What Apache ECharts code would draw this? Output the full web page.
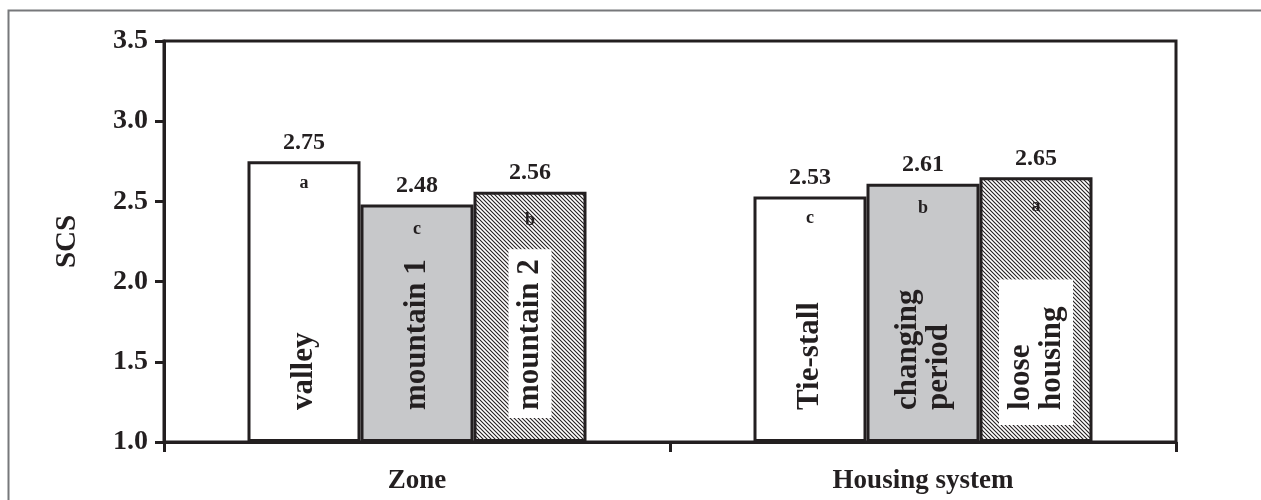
<!DOCTYPE html>
<html><head><meta charset="utf-8">
<script src="https://cdn.jsdelivr.net/npm/echarts@6/dist/echarts.min.js"></script>
<style>html,body{margin:0;padding:0;background:#fff}#c{width:1261px;height:500px}</style>
</head><body><div id="c"></div>
<script>
// ---- data ----
const categories = ['Zone', 'Housing system'];
const firstBar = [2.75, 2.53];
const secondBar = [2.48, 2.61];
const thirdBar = [2.56, 2.65];
const firstNames = ['valley', 'Tie-stall'];
const secondNames = ['mountain 1', 'changing\nperiod'];
const thirdNames = ['mountain 2', 'loose\nhousing'];
const firstLetters = ['a', 'c'];
const secondLetters = ['c', 'b'];
const thirdLetters = ['b', 'a'];
const yTicks = [1.0, 1.5, 2.0, 2.5, 3.0, 3.5];
const yTitle = 'SCS';

// ---- styling ----
const ink = '#231f20';
const serif = '"Liberation Serif","Times New Roman",serif';
const grayFill = '#c7c8ca';
const BW = 113;

function hatch() {
  const c = document.createElement('canvas');
  c.width = 4; c.height = 4;
  const g = c.getContext('2d');
  g.fillStyle = '#fff'; g.fillRect(0, 0, 4, 4);
  g.strokeStyle = ink; g.lineWidth = 1.1;
  g.beginPath();
  g.moveTo(-1, -1); g.lineTo(5, 5);
  g.moveTo(-1, 3); g.lineTo(1, 5);
  g.moveTo(3, -1); g.lineTo(5, 1);
  g.stroke();
  return c;
}

function mainSeries(vals, fill) {
  return {
    type: 'bar', xAxisIndex: 0, data: vals, barWidth: BW, barGap: '0%', silent: true,
    itemStyle: { color: fill, borderColor: ink, borderWidth: 3 },
    label: { show: true, position: 'top', distance: 7, formatter: p => p.value.toFixed(2),
      fontFamily: serif, fontWeight: 'bold', fontSize: 24, color: ink },
    z: 2
  };
}
function letterSeries(vals, letters, dist) {
  return {
    type: 'bar', xAxisIndex: 1, data: vals, barWidth: BW, barGap: '0%', silent: true,
    itemStyle: { color: 'rgba(0,0,0,0)' },
    label: { show: true, position: 'insideTop', distance: dist, formatter: p => letters[p.dataIndex],
      fontFamily: serif, fontWeight: 'bold', fontSize: 18, color: ink },
    z: 3
  };
}
function nameSeries(vals, names, boxes) {
  return {
    type: 'bar', xAxisIndex: 2, data: vals.map((v, i) => {
      const b = boxes ? boxes[i] : null;
      return b ? { value: v, label: { distance: b.d, padding: b.pad, backgroundColor: '#fff' } } : v;
    }), barWidth: BW, barGap: '0%', silent: true,
    itemStyle: { color: 'rgba(0,0,0,0)' },
    label: { show: true, position: 'insideBottom', distance: 32, rotate: 90, align: 'left', verticalAlign: 'middle',
      formatter: p => names[p.dataIndex], lineHeight: 31,
      fontFamily: serif, fontWeight: 'bold', fontSize: 31, color: ink },
    z: 3
  };
}

const hiddenX = { type: 'category', data: categories, show: false };
const chart = echarts.init(document.getElementById('c'), null, { renderer: 'canvas' });
chart.setOption({
  animation: false,
  backgroundColor: '#fff',
  graphic: [{ type: 'rect', left: 6, top: 8, shape: { width: 1400, height: 700 }, style: { fill: 'none', stroke: '#77787b', lineWidth: 2 }, z: -1 }],
  grid: { left: 164, right: 85, top: 41, bottom: 58, show: true, borderColor: ink, borderWidth: 3, backgroundColor: 'rgba(0,0,0,0)' },
  xAxis: [
    { type: 'category', data: categories,
      axisLine: { lineStyle: { color: ink, width: 3 } },
      axisTick: { show: true, length: 10, interval: 0, lineStyle: { color: ink, width: 3 } },
      axisLabel: { interval: 0, margin: 26, fontFamily: serif, fontWeight: 'bold', fontSize: 27, color: ink } },
    Object.assign({}, hiddenX), Object.assign({}, hiddenX)
  ],
  yAxis: {
    type: 'value', min: yTicks[0], max: yTicks[yTicks.length - 1], interval: yTicks[1] - yTicks[0], startValue: yTicks[0],
    name: yTitle, nameLocation: 'middle', nameGap: 82, nameRotate: 90,
    nameTextStyle: { fontFamily: serif, fontWeight: 'bold', fontSize: 29, color: ink },
    axisLine: { show: true, lineStyle: { color: ink, width: 3 } },
    axisTick: { show: true, length: 9, lineStyle: { color: ink, width: 3 } },
    splitLine: { show: false },
    axisLabel: { margin: 16, formatter: v => v.toFixed(1), fontFamily: serif, fontWeight: 'bold', fontSize: 28, color: ink }
  },
  series: [
    mainSeries(firstBar, '#fff'),
    mainSeries(secondBar, grayFill),
    mainSeries(thirdBar, { image: hatch(), repeat: 'repeat' }),
    letterSeries(firstBar, firstLetters, 13),
    letterSeries(secondBar, secondLetters, 16),
    letterSeries(thirdBar, thirdLetters, 20),
    nameSeries(firstBar, firstNames),
    nameSeries(secondBar, secondNames),
    nameSeries(thirdBar, thirdNames, [{ d: 24, pad: [6, 10, 6, 8] }, { d: 17, pad: [6, 27, 6, 15] }])
  ]
});
</script></body></html>
